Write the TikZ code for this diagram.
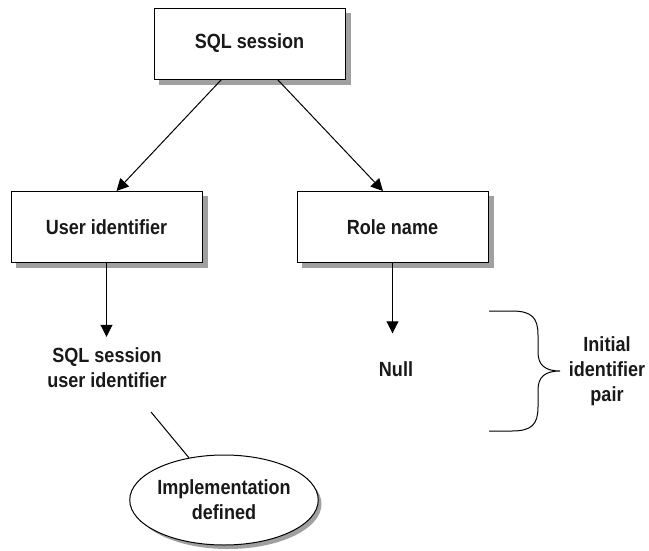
\documentclass[tikz,border=0pt]{standalone}
\usepackage{fontspec}
\setmainfont{Liberation Sans}[FakeStretch=0.88]
\usetikzlibrary{arrows.meta, shapes.geometric, backgrounds}

\definecolor{shadowgray}{RGB}{160,160,160}

\tikzset{
    box/.style={draw, fill=white, line width=1pt, minimum width=191pt, minimum height=71pt},
    oval/.style={ellipse, draw, fill=white, line width=1pt, minimum width=187pt, minimum height=90pt, inner sep=0pt, align=center},
    txt/.style={align=center, inner sep=2pt},
    arr/.style={line width=1pt, -{Triangle[length=12pt, width=12pt]}},
    brc/.style={line width=1pt},
    every node/.style={font=\bfseries\fontsize{20.5}{25}\selectfont, text=black!90}
}

\newcommand{\boxnode}[4][box]{
    \node[#1] (#2) at (#3) {#4};
}
\newcommand{\boxshadow}[1]{
    \fill[shadowgray] ([shift={(5pt,-5pt)}]#1.south west) rectangle ([shift={(5pt,-5pt)}]#1.north east);
}
\newcommand{\arrowedge}[3][]{
    \draw[arr, #1] (#2) -- (#3);
}

\begin{document}
\begin{tikzpicture}[x=1pt, y=-1pt]
    \useasboundingbox (0,0) rectangle (649,550);

    \boxnode{sess}{249.5, 43.5}{SQL session};
    \boxnode{user}{106.5, 227}{User identifier};
    \boxnode{role}{392.5, 227}{Role name};

    \boxnode[txt]{sessuser}{107, 368}{SQL session\\user identifier};
    \boxnode[txt]{null}{396, 369}{Null};
    \boxnode[oval]{impl}{224, 500}{Implementation\\defined};
    \boxnode[txt]{pair}{607, 371}{Initial\\identifier\\pair};

    % shadows
    \begin{scope}[on background layer]
        \boxshadow{sess}
        \boxshadow{user}
        \boxshadow{role}
        \fill[shadowgray] ([shift={(4pt,-4pt)}]impl.center) ellipse (93.5pt and 45pt);
    \end{scope}

    \arrowedge{[xshift=-28pt]sess.south}{[xshift=10pt]user.north};
    \arrowedge{[xshift=28pt]sess.south}{[xshift=-9.5pt]role.north};
    \arrowedge[shorten >=9pt]{user.south}{user.south |- sessuser.north};
    \arrowedge[shorten >=26pt]{role.south}{role.south |- null.north};

    % link from the session user identifier to its note
    \coordinate (lnk) at (151, 412);
    \draw[line width=1pt] (lnk) -- (impl);

    % brace round the pair
    \draw[brc] (489,311) -- (512,311) .. controls (532,311) and (538,318) .. (538,335)
        -- (538,352) .. controls (538,365) and (545,371) .. (560,371)
        .. controls (545,371) and (538,377) .. (538,390)
        -- (538,407) .. controls (538,424) and (532,431) .. (512,431) -- (489,431);
\end{tikzpicture}
\end{document}
